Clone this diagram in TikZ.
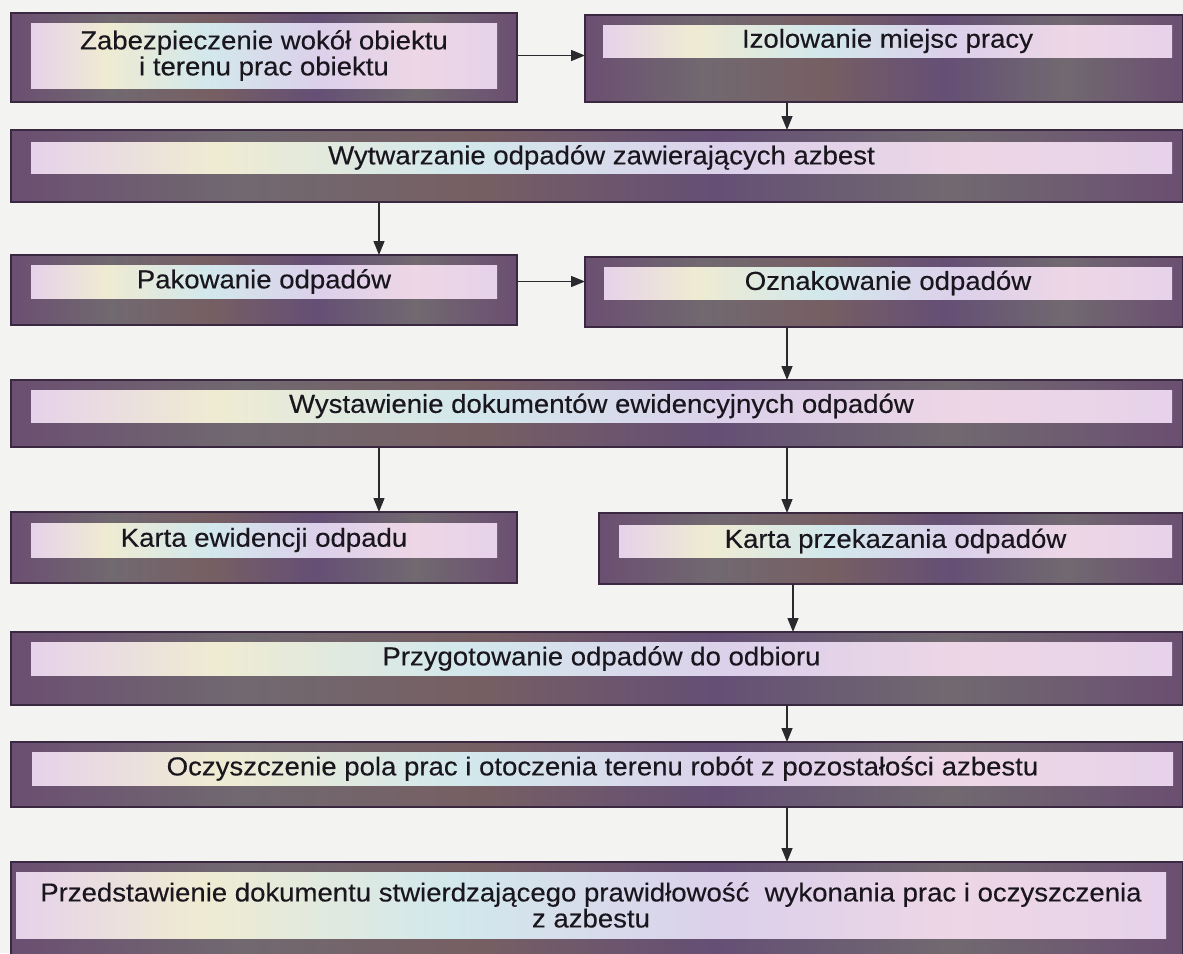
\documentclass[tikz,border=0pt]{standalone}
\usepackage{fontspec}
\setmainfont{Liberation Sans}[FakeStretch=1.06,FakeBold=0.3]
\usetikzlibrary{arrows.meta}
\definecolor{tlo}{HTML}{F3F3F1}
\definecolor{ramkaA}{HTML}{6B4F71}
\definecolor{ramkaB}{HTML}{716970}
\definecolor{ramkaC}{HTML}{765F63}
\definecolor{ramkaD}{HTML}{654F75}
\definecolor{linia}{HTML}{3A2840}
\definecolor{pasekA}{HTML}{E6D2EA}
\definecolor{pasekB}{HTML}{EFEBD2}
\definecolor{pasekC}{HTML}{D2E8EC}
\definecolor{pasekD}{HTML}{DCD0EA}
\definecolor{pasekE}{HTML}{EDD6E6}
\definecolor{tekst}{HTML}{1A161E}
\definecolor{strzalka}{HTML}{2A2A2E}
\pgfdeclarehorizontalshading{ramkacien}{100bp}{color(0bp)=(ramkaA); color(25bp)=(ramkaA); color(35bp)=(ramkaB); color(45bp)=(ramkaC); color(55bp)=(ramkaD); color(65bp)=(ramkaB); color(75bp)=(ramkaA); color(100bp)=(ramkaA)}
\pgfdeclarehorizontalshading{pasekcien}{100bp}{color(0bp)=(pasekA); color(25bp)=(pasekA); color(33bp)=(pasekB); color(44bp)=(pasekC); color(56bp)=(pasekD); color(66bp)=(pasekE); color(75bp)=(pasekA); color(100bp)=(pasekA)}
\begin{document}
\begin{tikzpicture}[x=1pt, y=-1pt,
    ramka/.style={draw=linia, line width=1.2pt, shading=ramkacien, inner sep=0pt, outer sep=0pt, anchor=north west},
    pasek/.style={shading=pasekcien, inner sep=0pt, outer sep=0pt, anchor=north west, text=tekst, align=center, font=\fontsize{26}{26}\selectfont},
    strz/.style={draw=strzalka, line width=1.4pt, -{Triangle[length=14pt,width=11pt]}}]
  \useasboundingbox (0,0) rectangle (1183,953);
  \fill[tlo] (0,0) rectangle (1183,953);

  \coordinate (kolL) at (379,0);
  \coordinate (kolP) at (787,0);
  \coordinate (kolQ) at (793,0);

  \node[ramka, minimum width=506, minimum height=89] (zabezp) at (11,13) {};
  \node[pasek, minimum width=466, minimum height=65] (zabezpT) at (31,23) {Zabezpieczenie wokół obiektu\\i terenu prac obiektu};

  \node[ramka, minimum width=598, minimum height=87] (izol) at (585,15) {};
  \node[pasek, minimum width=569, minimum height=32] (izolT) at (603,25) {Izolowanie miejsc pracy};

  \node[ramka, minimum width=1172, minimum height=72] (wytw) at (11,130) {};
  \node[pasek, minimum width=1141, minimum height=31] (wytwT) at (31,142) {Wytwarzanie odpadów zawierających azbest};

  \node[ramka, minimum width=506, minimum height=70] (pakow) at (11,255) {};
  \node[pasek, minimum width=466, minimum height=33] (pakowT) at (31,265) {Pakowanie odpadów};

  \node[ramka, minimum width=598, minimum height=70] (oznak) at (585,257) {};
  \node[pasek, minimum width=568, minimum height=32] (oznakT) at (604,267) {Oznakowanie odpadów};

  \node[ramka, minimum width=1172, minimum height=67] (wystaw) at (11,380) {};
  \node[pasek, minimum width=1141, minimum height=32] (wystawT) at (31,390) {Wystawienie dokumentów ewidencyjnych odpadów};

  \node[ramka, minimum width=506, minimum height=71] (kartaEw) at (11,512) {};
  \node[pasek, minimum width=466, minimum height=34] (kartaEwT) at (31,523) {Karta ewidencji odpadu};

  \node[ramka, minimum width=584, minimum height=71] (kartaPrz) at (599,513) {};
  \node[pasek, minimum width=553, minimum height=32] (kartaPrzT) at (619,525) {Karta przekazania odpadów};

  \node[ramka, minimum width=1172, minimum height=73] (przyg) at (11,632) {};
  \node[pasek, minimum width=1141, minimum height=33] (przygT) at (31,642) {Przygotowanie odpadów do odbioru};

  \node[ramka, minimum width=1172, minimum height=65] (oczysz) at (11,742) {};
  \node[pasek, minimum width=1141, minimum height=33] (oczyszT) at (32,752) {Oczyszczenie pola prac i otoczenia terenu robót z pozostałości azbestu};

  \node[ramka, minimum width=1172, minimum height=95] (przedst) at (11,862) {};
  \node[pasek, minimum width=1150, minimum height=66] (przedstT) at (16,872) {Przedstawienie dokumentu stwierdzającego prawidłowość\ \ wykonania prac i oczyszczenia\\z azbestu};

  \draw[strz] (zabezpT.east -| zabezp.east) -- (zabezpT.east -| izol.west);
  \draw[strz] (izol.south -| kolP) -- (wytw.north -| kolP);
  \draw[strz] (wytw.south -| kolL) -- (pakow.north -| kolL);
  \draw[strz] (pakowT.east -| pakow.east) -- (pakowT.east -| oznak.west);
  \draw[strz] (oznak.south -| kolP) -- (wystaw.north -| kolP);
  \draw[strz] (wystaw.south -| kolL) -- (kartaEw.north -| kolL);
  \draw[strz] (wystaw.south -| kolP) -- (kartaPrz.north -| kolP);
  \draw[strz] (kartaPrz.south -| kolQ) -- (przyg.north -| kolQ);
  \draw[strz] (przyg.south -| kolP) -- (oczysz.north -| kolP);
  \draw[strz] (oczysz.south -| kolP) -- (przedst.north -| kolP);
\end{tikzpicture}
\end{document}
